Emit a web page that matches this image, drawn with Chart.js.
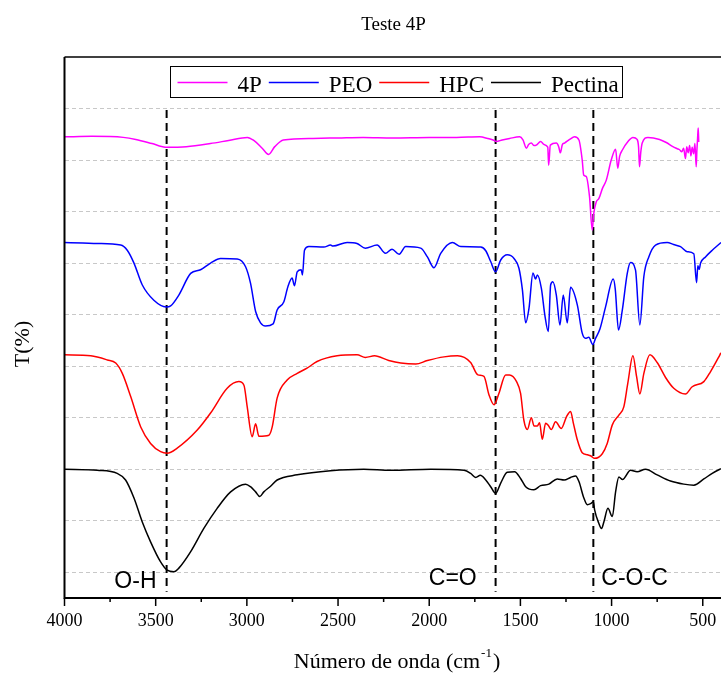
<!DOCTYPE html>
<html>
<head>
<meta charset="utf-8">
<title>Teste 4P</title>
<script src="https://cdn.jsdelivr.net/npm/chart.js@4.4.0/dist/chart.umd.min.js"></script>
<style>
    html, body { margin: 0; padding: 0; background: #fff; }
    canvas { display: block; }
</style>
</head>
<body>
<canvas id="ftirChart" width="721" height="677"></canvas>
<script>
// -------------------------------
// DATA (wavenumber in cm-1, transmittance in arbitrary offset units)
// -------------------------------
const waveTicks = [4000, 3500, 3000, 2500, 2000, 1500, 1000, 500];
const gridValues = [0, 10, 20, 30, 40, 50, 60, 70, 80, 90];

const peakWaves = [3440, 1636, 1100];
const peakNames = ["O-H", "C=O", "C-O-C"];
const peakTop = 89.7;
const peakBottom = -3.8;

const seriesNames = ["4P", "PEO", "HPC", "Pectina"];

const wave4P = [4000, 3850, 3678, 3609, 3520, 3447, 3332, 3200, 3100, 2997, 2962, 2916, 2881, 2847, 2800, 2638, 2500, 2362, 2200, 2000,
    1850, 1723, 1680, 1650, 1632, 1600, 1559, 1504, 1486, 1467, 1455, 1440, 1425, 1413, 1389, 1370, 1350, 1345, 1336, 1303,
    1290, 1281, 1270, 1258, 1230, 1203, 1179, 1161, 1153, 1139, 1121, 1106, 1099, 1084, 1070, 1050, 1029, 1002, 978, 966,
    956, 940, 910, 883, 860, 852, 847, 840, 832, 801, 737, 700, 664, 640, 627, 615, 605, 595, 588, 580,
    572, 565, 558, 550, 543, 536, 532, 528, 525, 522];
const t4P = [84.5, 84.6, 84.4, 84.0, 83.2, 82.5, 82.6, 83.2, 83.8, 84.4, 83.8, 82.3, 81.1, 82.6, 83.9, 84.2, 84.3, 84.4, 84.3, 84.4,
    84.4, 84.5, 84.2, 83.9, 83.6, 83.9, 84.2, 84.5, 83.9, 82.3, 83.0, 83.3, 82.8, 82.9, 83.6, 83.0, 82.5, 79.0, 82.9, 83.3,
    82.6, 81.4, 83.0, 83.3, 84.0, 84.5, 83.9, 80.0, 77.1, 76.8, 72.9, 66.4, 69.3, 71.9, 72.5, 74.5, 76.1, 80.0, 82.1, 78.4,
    80.7, 82.0, 83.6, 84.4, 84.0, 82.5, 78.7, 81.5, 83.3, 84.4, 84.0, 83.4, 82.6, 82.2, 82.0, 81.6, 82.3, 80.3, 82.6, 81.4,
    82.8, 80.8, 82.5, 81.2, 83.2, 78.7, 82.0, 84.5, 86.2, 83.5];

const wavePEO = [4000, 3900, 3820, 3692, 3656, 3619, 3574, 3510, 3442, 3418, 3373, 3308, 3254, 3199, 3144, 3053, 3007, 2980, 2952, 2925,
    2898, 2856, 2834, 2797, 2775, 2752, 2739, 2724, 2702, 2695, 2684, 2660, 2578, 2541, 2528, 2450, 2396, 2350, 2286, 2240,
    2204, 2165, 2129, 2047, 2010, 1974, 1937, 1873, 1827, 1718, 1690, 1663, 1636, 1608, 1572, 1535, 1508, 1489, 1471, 1453,
    1431, 1417, 1407, 1385, 1366, 1347, 1334, 1322, 1303, 1283, 1265, 1243, 1225, 1188, 1161, 1143, 1125, 1103, 1088, 1064,
    1033, 991, 980, 962, 941, 914, 896, 869, 845, 823, 796, 759, 695, 660, 622, 585, 549, 534, 527, 520,
    512, 485, 448, 406, 400];
const tPEO = [64.0, 63.9, 63.8, 63.5, 62.5, 60.0, 55.8, 52.8, 51.5, 51.7, 53.8, 58.0, 58.7, 60.0, 60.9, 60.8, 59.3, 56.1, 50.6, 48.4,
    47.8, 48.2, 50.9, 52.5, 55.4, 57.1, 55.6, 58.3, 58.7, 57.7, 62.5, 63.2, 63.1, 63.5, 63.3, 64.0, 63.8, 62.9, 63.5, 61.9,
    62.7, 61.7, 63.2, 62.9, 61.2, 59.1, 61.9, 64.0, 63.2, 63.1, 62.4, 60.3, 58.3, 60.6, 61.6, 60.9, 59.0, 54.8, 48.4, 51.2,
    58.1, 56.9, 57.7, 55.1, 49.9, 46.7, 55.8, 56.4, 53.8, 48.0, 53.8, 48.4, 55.3, 51.9, 46.4, 45.4, 45.6, 44.2, 45.4, 47.2,
    51.5, 56.9, 55.0, 47.0, 50.9, 58.0, 60.1, 58.7, 48.0, 57.4, 61.2, 63.5, 64.0, 63.6, 63.2, 62.2, 61.8, 56.2, 59.5, 58.8,
    60.0, 61.2, 62.5, 63.8, 64.0];

const waveHPC = [4000, 3856, 3765, 3719, 3683, 3637, 3582, 3528, 3473, 3437, 3382, 3272, 3199, 3108, 3044, 3016, 2998, 2971, 2952, 2934,
    2879, 2861, 2834, 2779, 2724, 2670, 2615, 2505, 2396, 2350, 2300, 2222, 2156, 2074, 2010, 1919, 1845, 1773, 1733, 1700,
    1672, 1645, 1618, 1581, 1560, 1521, 1499, 1481, 1462, 1440, 1425, 1407, 1395, 1380, 1362, 1345, 1331, 1307, 1276, 1247,
    1225, 1210, 1188, 1161, 1133, 1115, 1093, 1051, 1024, 996, 960, 933, 911, 883, 863, 845, 823, 790, 750, 704,
    659, 595, 558, 494, 458, 406, 400];
const tHPC = [42.2, 42.0, 41.2, 40.6, 38.6, 34.1, 28.2, 25.0, 23.4, 23.1, 24.1, 27.6, 30.9, 35.7, 37.0, 36.3, 32.1, 26.3, 28.8, 26.4,
    26.6, 28.2, 33.8, 37.3, 38.6, 39.6, 40.9, 42.0, 42.2, 41.7, 42.0, 41.1, 40.6, 40.4, 41.1, 41.8, 42.0, 40.7, 38.3, 38.0,
    34.4, 32.5, 34.7, 38.3, 38.3, 37.0, 34.7, 29.5, 27.7, 30.0, 28.4, 28.4, 29.0, 25.8, 28.9, 28.4, 27.7, 29.2, 27.9, 30.2,
    31.2, 29.0, 25.7, 23.2, 22.8, 22.6, 22.1, 23.0, 25.0, 28.6, 30.5, 32.1, 36.7, 42.0, 38.0, 34.6, 38.6, 42.2, 40.7, 37.8,
    35.7, 34.6, 36.0, 37.0, 38.9, 42.2, 42.6];

const wavePectina = [4000, 3820, 3711, 3665, 3619, 3574, 3528, 3473, 3437, 3400, 3373, 3308, 3236, 3163, 3089, 3007, 2980, 2952, 2929, 2907,
    2870, 2834, 2724, 2541, 2359, 2211, 1992, 1809, 1773, 1745, 1720, 1690, 1663, 1636, 1608, 1572, 1532, 1499, 1471, 1426,
    1389, 1344, 1298, 1260, 1225, 1197, 1179, 1152, 1133, 1115, 1100, 1093, 1070, 1055, 1042, 1020, 996, 978, 960, 940,
    896, 860, 814, 750, 677, 604, 549, 494, 448, 406, 400];
const tPectina = [20.0, 19.8, 19.2, 17.9, 14.4, 9.8, 5.9, 2.0, 0.4, 0.1, 0.8, 4.0, 8.5, 12.4, 15.6, 17.1, 16.6, 15.6, 14.7, 15.6,
    16.7, 17.9, 18.9, 19.7, 20.0, 19.8, 20.0, 19.8, 19.2, 18.4, 18.8, 17.9, 16.6, 15.3, 17.3, 19.4, 19.5, 18.2, 16.6, 16.0,
    16.8, 17.1, 18.1, 17.9, 18.4, 18.7, 17.6, 14.4, 13.1, 13.3, 13.7, 12.1, 9.5, 8.5, 9.8, 12.4, 10.8, 15.6, 18.5, 18.0,
    19.8, 19.5, 20.0, 18.9, 17.7, 17.1, 16.9, 18.1, 19.2, 20.0, 20.1];

// -------------------------------
// HELPERS
// -------------------------------
const SERIF = "'Liberation Serif', 'Times New Roman', serif";
const SANS = "'Liberation Sans', Arial, sans-serif";

function toPoints(xs, ys) {
    return xs.map((x, i) => ({ x: x, y: ys[i] }));
}

function spectrum(label, xs, ys, color) {
    return {
        label: label,
        data: toPoints(xs, ys),
        borderColor: color,
        backgroundColor: color,
        borderWidth: 1.5,
        pointRadius: 0,
        cubicInterpolationMode: 'monotone',
        fill: false
    };
}

const peakDatasets = peakWaves.map(w => ({
    label: "",
    data: [{ x: w, y: peakTop }, { x: w, y: peakBottom }],
    borderColor: '#000',
    borderWidth: 2,
    borderDash: [8, 5],
    pointRadius: 0,
    tension: 0,
    fill: false
}));

// -------------------------------
// DECORATION PLUGIN (frame, minor ticks, legend, labels, titles)
// -------------------------------
const decorPlugin = {
    id: 'decor',
    afterDraw(chart) {
        const ctx = chart.ctx;
        const area = chart.chartArea;
        const xs = chart.scales.x;
        const ys = chart.scales.y;

        ctx.save();

        // frame
        ctx.strokeStyle = '#000';
        ctx.lineWidth = 1.5;
        ctx.beginPath();
        ctx.moveTo(area.left, area.top);
        ctx.lineTo(area.right, area.top);
        ctx.stroke();
        ctx.lineWidth = 2;
        ctx.beginPath();
        ctx.moveTo(area.left, area.top);
        ctx.lineTo(area.left, area.bottom);
        ctx.lineTo(area.right, area.bottom);
        ctx.stroke();

        // major + minor ticks
        ctx.lineWidth = 1.5;
        waveTicks.forEach((v, i) => {
            const px = xs.getPixelForValue(v);
            ctx.beginPath();
            ctx.moveTo(px, area.bottom);
            ctx.lineTo(px, area.bottom + 8);
            ctx.stroke();
            if (i < waveTicks.length - 1) {
                const mx = xs.getPixelForValue((v + waveTicks[i + 1]) / 2);
                ctx.beginPath();
                ctx.moveTo(mx, area.bottom);
                ctx.lineTo(mx, area.bottom + 4);
                ctx.stroke();
            }
        });

        // peak labels
        ctx.fillStyle = '#000';
        ctx.font = "23px " + SANS;
        ctx.textAlign = 'center';
        ctx.textBaseline = 'alphabetic';
        const labelWaves = [3611, 1871, 874];
        const labelYs = [-3.1, -2.5, -2.5];
        peakNames.forEach((name, i) => {
            ctx.fillText(name, xs.getPixelForValue(labelWaves[i]), ys.getPixelForValue(labelYs[i]));
        });

        // legend box
        const box = { left: 170.5, top: 66.5, width: 452, height: 31 };
        ctx.fillStyle = '#fff';
        ctx.fillRect(box.left, box.top, box.width, box.height);
        ctx.lineWidth = 1;
        ctx.strokeStyle = '#000';
        ctx.strokeRect(box.left, box.top, box.width, box.height);
        ctx.font = "23px " + SERIF;
        ctx.textAlign = 'left';
        let lx = box.left + 7;
        chart.data.datasets.forEach(ds => {
            if (!seriesNames.includes(ds.label)) return;
            ctx.strokeStyle = ds.borderColor;
            ctx.lineWidth = 1.5;
            ctx.beginPath();
            ctx.moveTo(lx, 82.5);
            ctx.lineTo(lx + 50, 82.5);
            ctx.stroke();
            lx += 60;
            ctx.fillStyle = '#000';
            ctx.fillText(ds.label, lx, 92);
            lx += ctx.measureText(ds.label).width + 7;
        });

        // titles
        ctx.fillStyle = '#000';
        ctx.textAlign = 'center';
        ctx.font = "19px " + SERIF;
        ctx.fillText("Teste 4P", 393.5, 30);

        // x title with superscript -1
        ctx.font = "22px " + SERIF;
        const mainText = "Número de onda (cm";
        const closeText = ")";
        const supFont = "13px " + SERIF;
        const wMain = ctx.measureText(mainText).width;
        const wClose = ctx.measureText(closeText).width;
        ctx.font = supFont;
        const wSup = ctx.measureText("-1").width + 2;
        const startX = 397 - (wMain + wSup + wClose) / 2;
        ctx.textAlign = 'left';
        ctx.font = "22px " + SERIF;
        ctx.fillText(mainText, startX, 668);
        ctx.font = supFont;
        ctx.fillText("-1", startX + wMain + 1, 657);
        ctx.font = "22px " + SERIF;
        ctx.fillText(closeText, startX + wMain + wSup, 668);

        ctx.textAlign = 'center';
        ctx.translate(23, 344);
        ctx.rotate(-Math.PI / 2);
        ctx.textBaseline = 'middle';
        ctx.fillText("T(%)", 0, 0);

        ctx.restore();
    }
};

// -------------------------------
// CHART
// -------------------------------
const ftirCtx = document.getElementById("ftirChart").getContext("2d");

const ftirChart = new Chart(ftirCtx, {
    type: 'line',
    data: {
        datasets: [
            spectrum(seriesNames[0], wave4P, t4P, '#ff00ff'),
            spectrum(seriesNames[1], wavePEO, tPEO, '#0000ff'),
            spectrum(seriesNames[2], waveHPC, tHPC, '#ff0000'),
            spectrum(seriesNames[3], wavePectina, tPectina, '#000000'),
            ...peakDatasets
        ]
    },
    options: {
        responsive: false,
        animation: false,
        layout: { padding: { top: 57, right: 0, bottom: 0, left: 0 } },
        plugins: { legend: { display: false }, title: { display: false }, tooltip: { enabled: false } },
        scales: {
            x: {
                type: 'linear',
                min: 400,
                max: 4000,
                reverse: true,
                afterBuildTicks: s => { s.ticks = waveTicks.map(v => ({ value: v })); },
                afterFit: s => { s.height = 79; s.paddingLeft = 0; s.paddingRight = 0; },
                grid: { display: false, drawTicks: false },
                border: { display: false },
                ticks: {
                    padding: 12,
                    color: '#000',
                    autoSkip: false,
                    maxRotation: 0,
                    font: { family: SERIF, size: 18 },
                    callback: v => String(v)
                }
            },
            y: {
                type: 'linear',
                min: -5,
                max: 100,
                afterBuildTicks: s => { s.ticks = gridValues.map(v => ({ value: v })); },
                afterFit: s => { s.width = 64.5; },
                ticks: { display: false },
                grid: { color: '#c8c8c8', lineWidth: 1, drawTicks: false },
                border: { display: false, dash: [4, 3] }
            }
        }
    },
    plugins: [decorPlugin]
});
</script>
</body>
</html>
